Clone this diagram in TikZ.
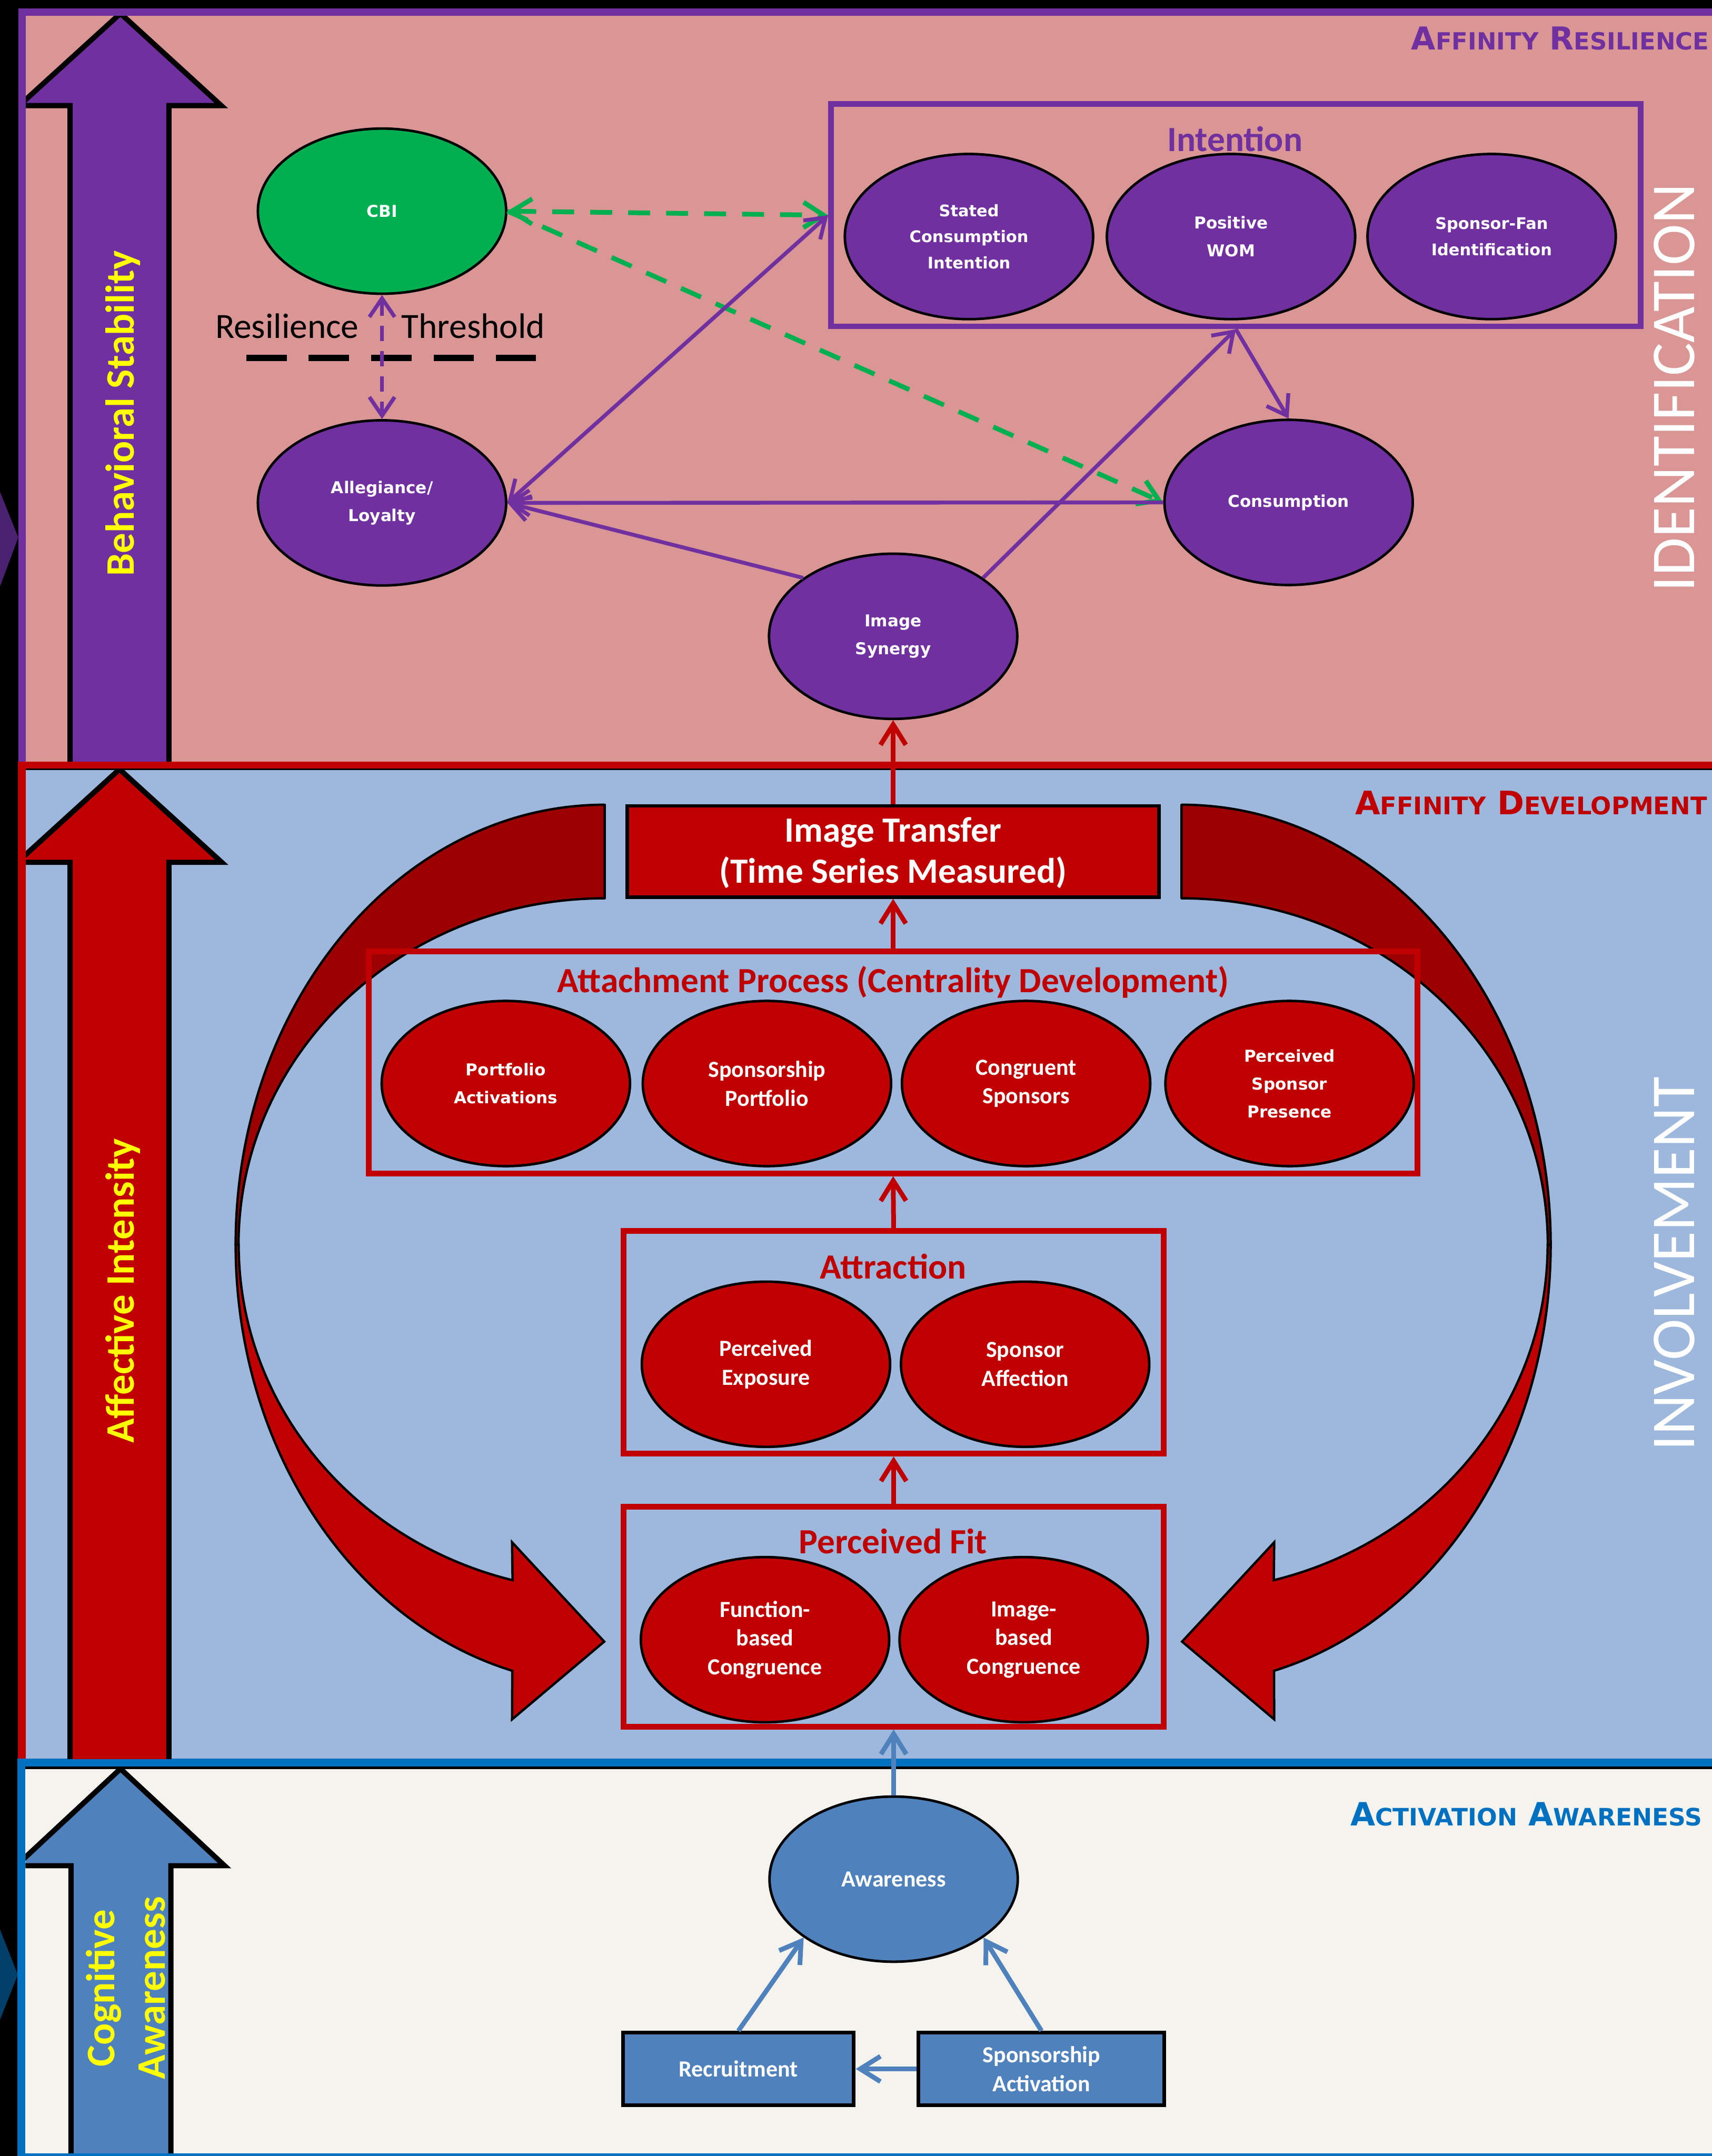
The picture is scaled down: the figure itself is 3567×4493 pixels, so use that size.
\documentclass[tikz,border=0pt]{standalone}
\usepackage{fontspec}
\setmainfont{Carlito}
\newfontfamily\verd{DejaVu Sans}
\usetikzlibrary{arrows.meta,shapes.geometric}
\definecolor{pinkbg}{HTML}{D99694}
\definecolor{bluebg}{HTML}{9DB8DC}
\definecolor{whitebg}{HTML}{F4F3EE}
\definecolor{purp}{HTML}{7030A0}
\definecolor{redc}{HTML}{C00000}
\definecolor{darkred}{HTML}{9C0000}
\definecolor{grn}{HTML}{00B050}
\definecolor{bluc}{HTML}{4F81BD}
\definecolor{blueline}{HTML}{0070C0}
\definecolor{yel}{HTML}{FFFF00}
\definecolor{chevpurp}{HTML}{4B2272}
\definecolor{chevblue}{HTML}{00406B}
\newcommand\labbig{18.7}
\newcommand\labsmall{14}
\newcommand\scap[2]{{\fontsize{\labbig}{20}\selectfont #1}{\fontsize{\labsmall}{16}\selectfont #2}}
\newcommand\mycurvedarrow{%
  \filldraw[fill=darkred, draw=black, line width=1.4pt, line join=round]
    (1260,1677) arc[start angle=-90, end angle=-180, x radius=769, y radius=917]
    -- (497,2594) arc[start angle=180, end angle=270, x radius=763, y radius=722] -- cycle;
  \filldraw[fill=redc, draw=black, line width=1.4pt, line join=miter]
    (491,2594) arc[start angle=180, end angle=104.5, x radius=769, y radius=917]
    -- (1067,3583) -- (1259,3421) -- (1067,3214) -- (1068,3293)
    arc[start angle=104.6, end angle=180, x radius=763, y radius=722] -- cycle;
}
\tikzset{
  ell/.style={ellipse, draw=black, line width=1.5pt, minimum width=5.17cm, minimum height=3.44cm, inner sep=0pt, text=white, align=center},
  vtext/.style={font=\verd\bfseries\fontsize{9.7}{16.5}\selectfont},
  vtexti/.style={font=\verd\bfseries\fontsize{9.5}{15.5}\selectfont},
  ctext/.style={font=\bfseries\fontsize{13.7}{17}\selectfont},
  pell/.style={ell, fill=purp},
  rell/.style={ell, fill=redc},
  frame/.style={draw, line width=3.4pt, inner sep=0pt},
  titletext/.style={font=\bfseries\fontsize{21}{25}\selectfont, anchor=base},
  seclabel/.style={font=\verd\bfseries\fontsize{18.7}{20}\selectfont, anchor=base west, inner sep=0pt},
  bigarrow/.style={draw=black, line width=3.1pt, line join=miter},
  sidetext/.style={rotate=90, text=white, anchor=base, inner sep=0pt, font=\fontsize{37}{40}\selectfont},
  arrowtext/.style={rotate=90, text=yel, align=center, font=\bfseries\fontsize{24}{30}\selectfont},
  parrow/.style={draw=purp, line width=2.3pt, >={Straight Barb[length=11pt,width=15pt]}},
  pdash/.style={parrow, dash pattern=on 9pt off 6pt},
  garrow/.style={draw=grn, line width=2.8pt, dash pattern=on 13pt off 9.5pt, >={Straight Barb[length=12pt,width=15pt]}},
  rarrow/.style={draw=redc, line width=2.8pt, ->, >={Straight Barb[length=12pt,width=15pt]}},
  barrow/.style={draw=bluc, line width=2.8pt, ->, >={Straight Barb[length=12pt,width=15pt]}},
  thrline/.style={draw=black, line width=3.7pt, dash pattern=on 24pt off 13pt},
  bbox/.style={draw=black, line width=2.2pt, fill=bluc, text=white, inner sep=0pt, align=center, font=\bfseries\fontsize{13.7}{17}\selectfont}
}
\begin{document}
\begin{tikzpicture}[x=0.01cm, y=-0.01cm]
\useasboundingbox (0,0) rectangle (3567,4493);
\begin{scope}
\clip (0,0) rectangle (3567,4493);
% backgrounds
\fill[black] (0,0) rectangle (3567,4493);
\fill[purp] (38,18) rectangle (3567,1601);
\fill[pinkbg] (54,33) rectangle (3567,1587);
\fill[redc] (37,1587) rectangle (3567,3681);
\fill[black] (54,1601) rectangle (3567,1605);
\fill[bluebg] (54,1605) rectangle (3567,3665);
\fill[blueline] (36,3665) rectangle (3567,4493);
\fill[black] (53,3681) rectangle (3567,3687);
\fill[whitebg] (53,3687) rectangle (3567,4487);
% chevrons in the margin
\fill[chevpurp] (0,1025) -- (38,1120) -- (0,1222) -- cycle;
\fill[chevblue] (0,4021) -- (37,4115) -- (0,4209) -- cycle;
% big left arrows
\begin{scope}
\clip (54,33) rectangle (3567,1587);
\filldraw[bigarrow, fill=purp] (146,1640) -- (146,220) -- (40,220) -- (251,28) -- (461,220) -- (352,220) -- (352,1640) -- cycle;
\end{scope}
\begin{scope}
\clip (54,1605) rectangle (3567,3665);
\filldraw[bigarrow, fill=redc] (146,3720) -- (146,1797) -- (36,1797) -- (249,1603) -- (462,1797) -- (352,1797) -- (352,3720) -- cycle;
\end{scope}
\begin{scope}
\clip (53,3687) rectangle (3567,4487);
\filldraw[bigarrow, fill=bluc] (148,4540) -- (148,3888) -- (34,3888) -- (251,3686) -- (468,3888) -- (356,3888) -- (356,4540) -- cycle;
\end{scope}
\node[arrowtext] (bstext) at (256,862) {Behavioral Stability};
\node[arrowtext] (aitext) at (256,2690) {Affective Intensity};
\node[arrowtext] (catext) at (262,4143) {Cognitive\\Awareness};
% right side labels
\node[sidetext] (ident) at (3530,808) {IDENTIFICATION};
\node[sidetext] (invol) at (3530,2634) {INVOLVEMENT};
\node[seclabel, text=purp] (lres) at (2940,104) {\scap{A}{FFINITY} \scap{R}{ESILIENCE}};
\node[seclabel, text=redc, font=\verd\bfseries\fontsize{19.2}{20}\selectfont] (ldev) at (2823,1698) {\renewcommand\labbig{19.2}\renewcommand\labsmall{14.4}\scap{A}{FFINITY} \scap{D}{EVELOPMENT}};
\node[seclabel, text=blueline, font=\verd\bfseries\fontsize{19}{20}\selectfont] (lact) at (2813,3805) {\renewcommand\labbig{19}\renewcommand\labsmall{14.2}\scap{A}{CTIVATION} \scap{A}{WARENESS}};
% curved arrows
\mycurvedarrow
\begin{scope}[shift={(3722,0)}, xscale=-1]
\mycurvedarrow
\end{scope}
% frames and boxes
\node[frame, draw=purp, minimum width=16.86cm, minimum height=4.63cm] (intbox) at (2575,448.5) {};
\node[titletext, text=purp] (inttitle) at (2573,315) {Intention};
\node[draw=black, line width=2pt, fill=redc, minimum width=11.07cm, minimum height=1.9cm, inner sep=0pt] (itransfer) at (1861,1774.5) {};
\node[titletext, text=white] (ittext1) at (1861,1754) {Image Transfer};
\node[titletext, text=white] (ittext2) at (1861,1840) {(Time Series Measured)};
\node[frame, draw=redc, minimum width=21.84cm, minimum height=4.62cm] (attbox) at (1861,2214) {};
\node[titletext, text=redc] (atttitle) at (1861,2068) {Attachment Process (Centrality Development)};
\node[frame, draw=redc, minimum width=11.24cm, minimum height=4.64cm] (attrbox) at (1862,2797) {};
\node[titletext, text=redc] (attrtitle) at (1861,2665) {Attraction};
\node[frame, draw=redc, minimum width=11.24cm, minimum height=4.58cm] (fitbox) at (1862,3369) {};
\node[titletext, text=redc] (fittitle) at (1861,3237) {Perceived Fit};
\node[bbox, minimum width=4.81cm, minimum height=1.51cm] (recr) at (1538.5,4311.5) {Recruitment};
\node[bbox, minimum width=5.12cm, minimum height=1.51cm] (spact) at (2170,4311.5) {Sponsorship\\Activation};
% threshold
\node[anchor=base west, inner sep=0pt, font=\fontsize{21}{24}\selectfont] (restext) at (448,705) {Resilience};
\node[anchor=base west, inner sep=0pt, font=\fontsize{21}{24}\selectfont] (thrtext) at (836,705) {Threshold};
\coordinate (thrL) at (513,746);
\coordinate (thrR) at (1117,746);
\draw[thrline] (thrL) -- (thrR);
% ellipses: top section
\node[ell, fill=grn, vtext] (cbi) at (796,440) {CBI};
\node[pell, vtext] (alleg) at (796,1048) {Allegiance/\\Loyalty};
\node[pell, vtexti] (sci) at (2019,493) {Stated\\Consumption\\Intention};
\node[pell, vtext] (wom) at (2565,493) {Positive\\WOM};
\node[pell, vtexti] (sfi) at (3108,493) {Sponsor-Fan\\Identification};
\node[pell, vtext] (cons) at (2685,1047) {Consumption};
\node[pell, vtext] (syn) at (1861,1326) {Image\\Synergy};
% ellipses: middle section
\node[rell, vtext] (pact) at (1054,2258) {Portfolio\\Activations};
\node[rell, ctext] (spf) at (1598,2258) {Sponsorship\\Portfolio};
\node[rell, ctext] (cspon) at (2138,2258) {Congruent\\Sponsors};
\node[rell, vtext] (psp) at (2687,2258) {Perceived\\Sponsor\\Presence};
\node[rell, ctext] (pexp) at (1596,2843) {Perceived\\Exposure};
\node[rell, ctext] (saff) at (2136,2843) {Sponsor\\Affection};
\node[rell, ctext] (fbc) at (1594,3417) {Function-\\based\\Congruence};
\node[rell, ctext] (ibc) at (2133,3417) {Image-\\based\\Congruence};
% bottom
\node[ell, fill=bluc, ctext] (aware) at (1862,3916) {Awareness};
% connectors top
\draw[garrow, <->] (cbi.east) -- (intbox.west);
\draw[garrow, ->] (cbi.east) -- (cons.west);
\draw[parrow, <->] (alleg.east) -- (intbox.west);
\draw[parrow, ->] (cons.west) -- (alleg.east);
\draw[parrow, ->] (syn.147) -- (alleg.east);
\draw[parrow, ->] (syn.33) -- (intbox.south);
\draw[parrow, ->] (intbox.south) -- (cons.north);
\draw[pdash, <->] (cbi.south) -- (alleg.north);
% connectors middle
\draw[rarrow] (itransfer.north) -- (syn.south);
\draw[rarrow] (attbox.north) -- (itransfer.south);
\draw[rarrow] (attrbox.north) -- (attbox.south);
\draw[rarrow] (fitbox.north) -- (attrbox.south);
% connectors bottom
\draw[barrow] (aware.north) -- (fitbox.south);
\draw[barrow] (recr.north) -- (aware.213);
\draw[barrow] (spact.north) -- (aware.327);
\draw[barrow] (spact.west) -- (recr.east);
\end{scope}
\end{tikzpicture}
\end{document}
